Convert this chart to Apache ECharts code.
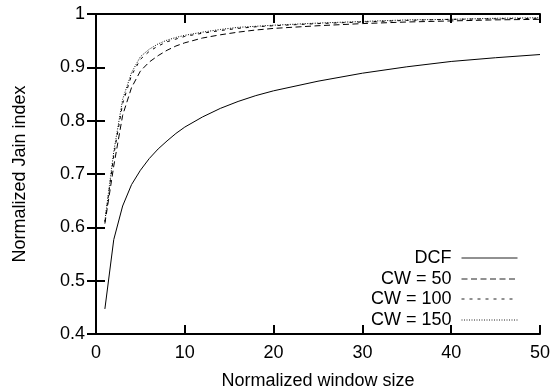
<!DOCTYPE html>
<html>
<head>
<meta charset="utf-8">
<script src="https://cdn.jsdelivr.net/npm/echarts@6/dist/echarts.min.js"></script>
<style>
  html, body { margin: 0; padding: 0; background: #fff; }
  #chart { width: 556px; height: 392px; }
</style>
</head>
<body>
<div id="chart"></div>
<script>
// window sizes (normalized)
var windowSizes = [1, 2, 3, 4, 5, 6, 7, 8, 9, 10, 12, 14, 16, 18, 20, 25, 30, 35, 40, 45, 50];
var dcf   = [0.447, 0.577, 0.640, 0.680, 0.707, 0.729, 0.747, 0.762, 0.776, 0.788, 0.807, 0.823, 0.836, 0.847, 0.856, 0.874, 0.889, 0.901, 0.911, 0.918, 0.924];
var cw50  = [0.607, 0.715, 0.810, 0.862, 0.893, 0.910, 0.922, 0.932, 0.940, 0.946, 0.955, 0.961, 0.966, 0.970, 0.973, 0.978, 0.982, 0.985, 0.987, 0.989, 0.990];
var cw100 = [0.610, 0.735, 0.832, 0.885, 0.915, 0.930, 0.940, 0.948, 0.953, 0.958, 0.964, 0.969, 0.973, 0.976, 0.978, 0.982, 0.985, 0.988, 0.990, 0.991, 0.992];
var cw150 = [0.612, 0.742, 0.840, 0.890, 0.920, 0.934, 0.944, 0.951, 0.956, 0.960, 0.966, 0.971, 0.975, 0.977, 0.979, 0.983, 0.986, 0.989, 0.990, 0.992, 0.993];
var seriesNames = ['DCF', 'CW = 50', 'CW = 100', 'CW = 150'];

var font = 'Liberation Sans, Arial, sans-serif';

function pairs(ys) {
    return windowSizes.map(function (x, i) { return [x, ys[i]]; });
}

var chartDom = document.getElementById('chart');
var myChart = echarts.init(chartDom);

var axisLine = { show: true, lineStyle: { color: '#000', width: 2 } };
var axisTick = { show: true, inside: true, length: 9, lineStyle: { color: '#000', width: 2 } };

var lineTypes = ['solid', [6, 3.5], [3, 5], [1, 1.5]];
var values = [dcf, cw50, cw100, cw150];
var legendCenters = [258, 279, 299, 320];

var option = {
    animation: false,
    grid: { left: 96, right: 16, top: 14, bottom: 58, containLabel: false, outerBoundsMode: 'none' },
    legend: seriesNames.map(function (name, i) {
        return {
            data: [name],
            orient: 'vertical',
            align: 'right',
            right: 38,
            top: legendCenters[i] - 9,
            padding: 0,
            itemWidth: 56,
            itemHeight: 14,
            itemStyle: { opacity: 0 },
            lineStyle: { width: 1, color: '#222' },
            textStyle: { fontFamily: font, fontSize: 18, lineHeight: 18, color: '#000', padding: [0, 5, 0, 0] }
        };
    }),
    xAxis: [{
        type: 'value', min: 0, max: 50, interval: 10,
        name: 'Normalized window size', nameLocation: 'middle', nameGap: 38,
        nameTextStyle: { fontFamily: font, fontSize: 18, color: '#000' },
        axisLine: axisLine, axisTick: axisTick,
        axisLabel: { fontFamily: font, fontSize: 18, color: '#000', margin: 10 },
        splitLine: { show: false }
    }, {
        type: 'value', min: 0, max: 50, interval: 10, position: 'top',
        axisLine: axisLine, axisTick: axisTick,
        axisLabel: { show: false }, splitLine: { show: false }
    }],
    yAxis: [{
        type: 'value', min: 0.4, max: 1, interval: 0.1,
        name: 'Normalized Jain index', nameLocation: 'middle', nameGap: 67,
        nameTextStyle: { fontFamily: font, fontSize: 18, color: '#000' },
        axisLine: axisLine, axisTick: axisTick,
        axisLabel: { fontFamily: font, fontSize: 18, color: '#000', margin: 11 },
        splitLine: { show: false }
    }, {
        type: 'value', min: 0.4, max: 1, interval: 0.1, position: 'right',
        axisLine: axisLine, axisTick: axisTick,
        axisLabel: { show: false }, splitLine: { show: false }
    }],
    series: seriesNames.map(function (name, i) {
        return {
            name: name,
            type: 'line',
            data: pairs(values[i]),
            symbol: 'none',
            smooth: false,
            lineStyle: { color: '#000', width: 1, type: lineTypes[i] },
            itemStyle: { color: '#000' }
        };
    })
};

option && myChart.setOption(option);
</script>
</body>
</html>
